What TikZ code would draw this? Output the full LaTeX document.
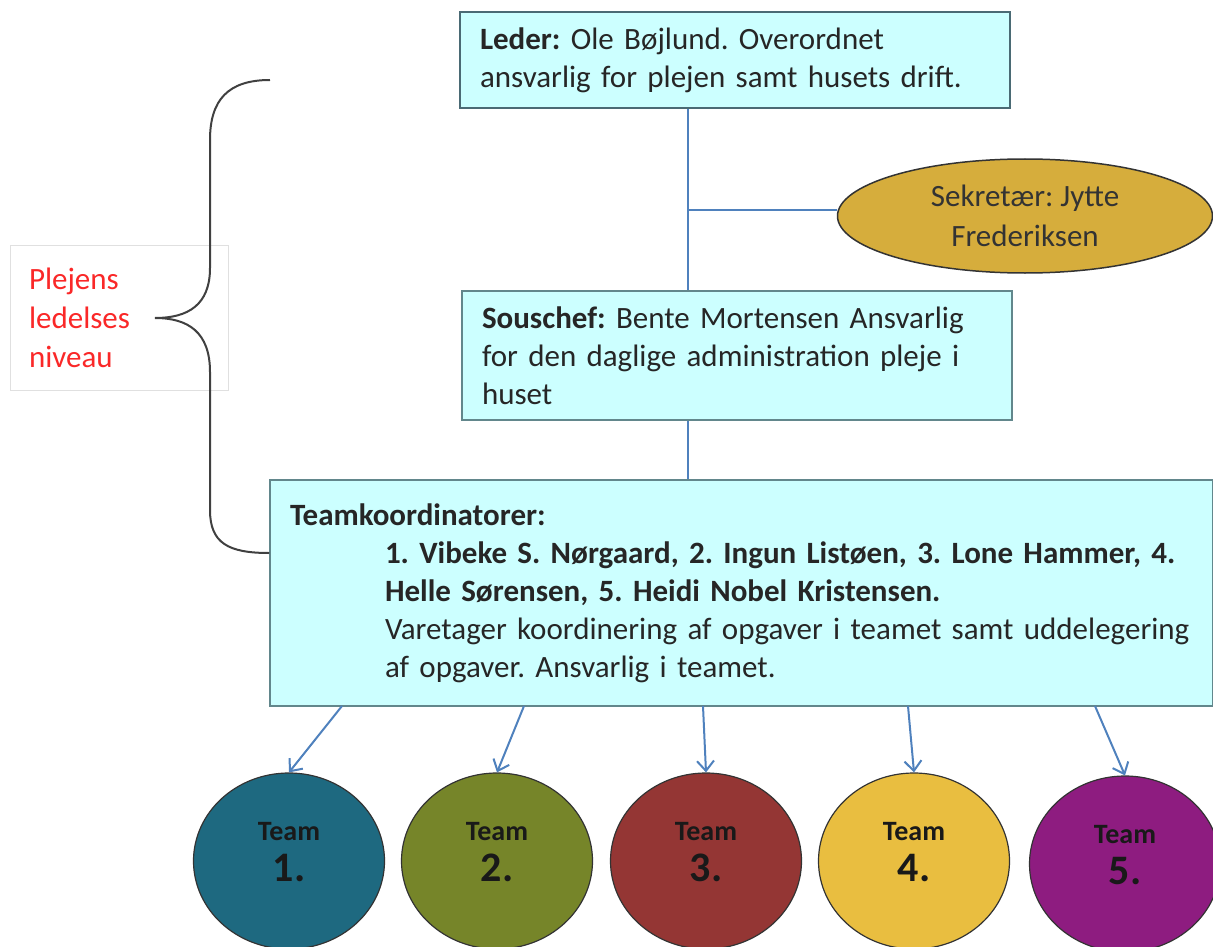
\documentclass[tikz,border=0pt]{standalone}
\usepackage{fontspec}
\setmainfont{Carlito}
\usetikzlibrary{shapes.geometric,arrows.meta}
\definecolor{boxcyan}{RGB}{204,255,255}
\definecolor{boxedge}{RGB}{98,135,140}
\definecolor{lederedge}{RGB}{74,106,116}
\definecolor{linkblue}{RGB}{79,129,189}
\definecolor{sekgold}{RGB}{214,173,60}
\definecolor{plred}{RGB}{250,40,40}
\definecolor{teamA}{RGB}{30,105,128}
\definecolor{teamB}{RGB}{118,133,41}
\definecolor{teamC}{RGB}{148,54,52}
\definecolor{teamD}{RGB}{233,190,64}
\definecolor{teamE}{RGB}{142,28,128}
\frenchspacing
\begin{document}
\begin{tikzpicture}[x=1pt, y=-1pt,
  box/.style={draw=boxedge, fill=boxcyan, line width=1.5pt, align=left, inner xsep=20pt, inner ysep=0pt,
    text=black!85, font=\fontsize{31}{38}\selectfont},
  conn/.style={draw=linkblue, line width=2pt},
  arr/.style={conn, -{Straight Barb[length=10pt,width=17pt]}},
  team/.style={ellipse, draw=black!80, line width=1.2pt, minimum width=191, minimum height=176, inner sep=0pt,
    align=center, text=black!90, font=\bfseries\fontsize{28}{41}\selectfont}]
  \useasboundingbox (0,0) rectangle (1213,947);
  \node[box, line width=2.5pt, draw=lederedge, minimum width=550, minimum height=96, text width=510] (leder) at (735,60)
    {\textbf{Leder:} Ole Bøjlund. Overordnet\\ansvarlig for plejen samt husets drift.};
  \node[box, minimum width=550, minimum height=129, text width=510] (sous) at (737,355.5)
    {\textbf{Souschef:} Bente Mortensen Ansvarlig\\for den daglige administration pleje i\\huset};
  \node[box, minimum width=943, minimum height=226, text width=903] (tk) at (741.5,593)
    {\textbf{Teamkoordinatorer:}\\
     \hspace*{95pt}\mbox{\textbf{1. Vibeke S. Nørgaard, 2. Ingun Listøen, 3. Lone Hammer, 4.}}\\
     \hspace*{95pt}\mbox{\textbf{Helle Sørensen, 5. Heidi Nobel Kristensen.}}\\
     \hspace*{95pt}\mbox{Varetager koordinering af opgaver i teamet samt uddelegering}\\
     \hspace*{95pt}\mbox{af opgaver. Ansvarlig i teamet.}};
  \node[ellipse, draw=black!80, line width=1.5pt, fill=sekgold, minimum width=375, minimum height=114, inner sep=0pt,
    align=center, text=black!80, font=\fontsize{31}{40}\selectfont] (sek) at (1025,216) {Sekretær: Jytte\\Frederiksen};
  \coordinate (j) at (688,210);
  \draw[conn] (leder.south -| j) -- (sous.north -| j);
  \draw[conn] (j) -- (j -| sek.west);
  \draw[conn] (sous.south -| j) -- (tk.north -| j);
  \node[team, fill=teamA] (t1) at (289,861) {Team\\{\fontsize{42}{42}\selectfont 1.}\rule[-18pt]{0pt}{1pt}};
  \node[team, fill=teamB] (t2) at (497,861) {Team\\{\fontsize{42}{42}\selectfont 2.}\rule[-18pt]{0pt}{1pt}};
  \node[team, fill=teamC] (t3) at (706,861) {Team\\{\fontsize{42}{42}\selectfont 3.}\rule[-18pt]{0pt}{1pt}};
  \node[team, fill=teamD] (t4) at (914,861) {Team\\{\fontsize{42}{42}\selectfont 4.}\rule[-18pt]{0pt}{1pt}};
  \node[team, fill=teamE] (t5) at (1125,864) {Team\\{\fontsize{42}{42}\selectfont 5.}\rule[-18pt]{0pt}{1pt}};
  \coordinate (a1) at (342,706);
  \coordinate (a2) at (524,706);
  \coordinate (a3) at (703,706);
  \coordinate (a4) at (908,706);
  \coordinate (a5) at (1095,706);
  \draw[arr] (a1) -- (t1.north);
  \draw[arr] (a2) -- (t2.north);
  \draw[arr] (a3) -- (t3.north);
  \draw[arr] (a4) -- (t4.north);
  \draw[arr] (a5) -- (t5.north);
  \node[draw=black!12, fill=white, minimum width=218, minimum height=145, text width=180, inner xsep=19pt,
    align=left, text=plred, font=\fontsize{31}{39}\selectfont] (lbl) at (119,317.5) {Plejens\\ledelses\\niveau};
  \draw[black!75, line width=2pt] (270,80) .. controls (228,80) and (210,100) .. (210,140) -- (210,268)
    .. controls (210,305) and (188,318) .. (155,318) .. controls (188,318) and (210,332) .. (210,372)
    -- (210,510) .. controls (210,543) and (228,553) .. (tk.west |- 0,553);
\end{tikzpicture}
\end{document}
